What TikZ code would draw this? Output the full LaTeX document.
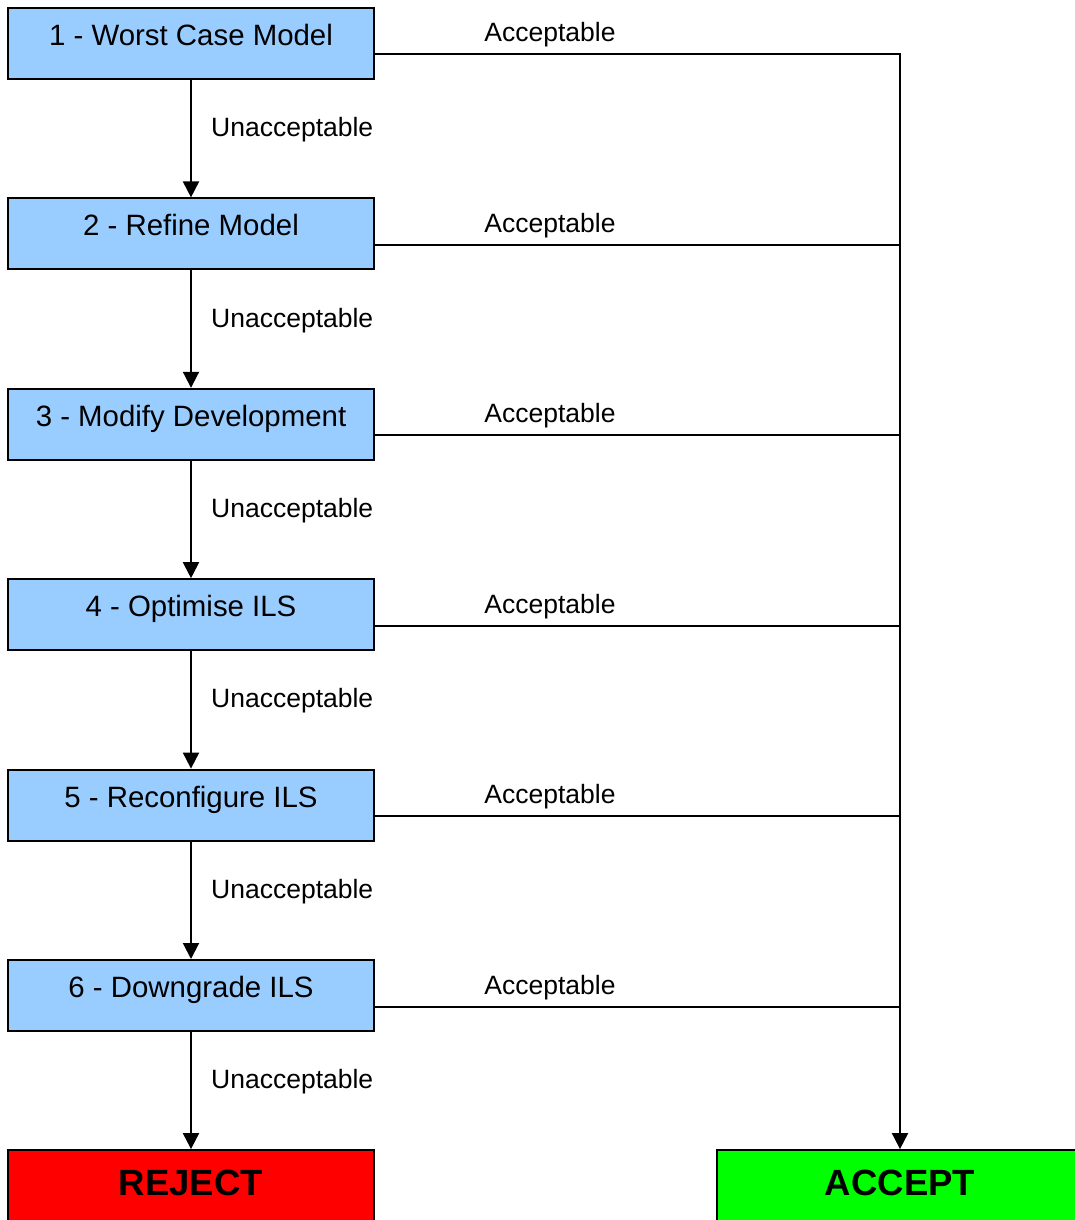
\documentclass[tikz,border=0pt]{standalone}
\usepackage{fontspec}
\setmainfont{Liberation Sans}
\usetikzlibrary{arrows.meta}
\definecolor{boxblue}{HTML}{99CCFF}
\definecolor{rejred}{HTML}{FF0000}
\definecolor{accgreen}{HTML}{00FF00}
\begin{document}
\begin{tikzpicture}[x=1pt,y=-1pt,
  stepbox/.style={draw, line width=2pt, fill=boxblue, minimum width=366pt, minimum height=71pt,
    inner sep=0pt, font=\fontsize{29.4}{34}\selectfont, text height=15pt, text depth=11pt},
  endbox/.style={draw, line width=1.8pt, minimum width=366pt, minimum height=80pt,
    inner sep=0pt, font=\fontsize{36.5}{40}\selectfont\bfseries, text height=20pt, text depth=10pt},
  lbl/.style={font=\fontsize{26.5}{30}\selectfont, inner sep=0pt},
  conn/.style={line width=2pt},
  arr/.style={conn, -{Triangle[length=16pt,width=16pt]}}]
\useasboundingbox (0,0) rectangle (1075,1220);

\node[stepbox] (b1) at (191,43.5) {1 - Worst Case Model};
\node[stepbox] (b2) at (191,233.9) {2 - Refine Model};
\node[stepbox] (b3) at (191,424.3) {3 - Modify Development};
\node[stepbox] (b4) at (191,614.7) {4 - Optimise ILS};
\node[stepbox] (b5) at (191,805.1) {5 - Reconfigure ILS};
\node[stepbox] (b6) at (191,995.5) {6 - Downgrade ILS};
\node[endbox, fill=rejred] (rej) at (191,1190) {REJECT};
\node[endbox, fill=accgreen] (acc) at (900,1190) {ACCEPT};

\coordinate (j1) at (900,54.5);
\coordinate (j2) at (900,244.9);
\coordinate (j3) at (900,435.3);
\coordinate (j4) at (900,625.7);
\coordinate (j5) at (900,816.1);
\coordinate (j6) at (900,1006.5);

% vertical flow
\draw[arr] (b1.south) -- (b2.north);
\draw[arr] (b2.south) -- (b3.north);
\draw[arr] (b3.south) -- (b4.north);
\draw[arr] (b4.south) -- (b5.north);
\draw[arr] (b5.south) -- (b6.north);
\draw[arr] (b6.south) -- (rej.north);

% acceptable branches
\draw[arr] (b1.east |- j1) -- (j1) -- (acc.north);
\draw[conn] (b2.east |- j2) -- (j2);
\draw[conn] (b3.east |- j3) -- (j3);
\draw[conn] (b4.east |- j4) -- (j4);
\draw[conn] (b5.east |- j5) -- (j5);
\draw[conn] (b6.east |- j6) -- (j6);

% labels
\node[lbl, anchor=base] (a1) at (550,42) {Acceptable};
\node[lbl, anchor=base] (a2) at (550,232.4) {Acceptable};
\node[lbl, anchor=base] (a3) at (550,422.8) {Acceptable};
\node[lbl, anchor=base] (a4) at (550,613.2) {Acceptable};
\node[lbl, anchor=base] (a5) at (550,803.6) {Acceptable};
\node[lbl, anchor=base] (a6) at (550,994) {Acceptable};

\node[lbl, anchor=base west] (u1) at (211,136.7) {Unacceptable};
\node[lbl, anchor=base west] (u2) at (211,327.1) {Unacceptable};
\node[lbl, anchor=base west] (u3) at (211,517.5) {Unacceptable};
\node[lbl, anchor=base west] (u4) at (211,707.9) {Unacceptable};
\node[lbl, anchor=base west] (u5) at (211,898.3) {Unacceptable};
\node[lbl, anchor=base west] (u6) at (211,1088.7) {Unacceptable};
\end{tikzpicture}
\end{document}
